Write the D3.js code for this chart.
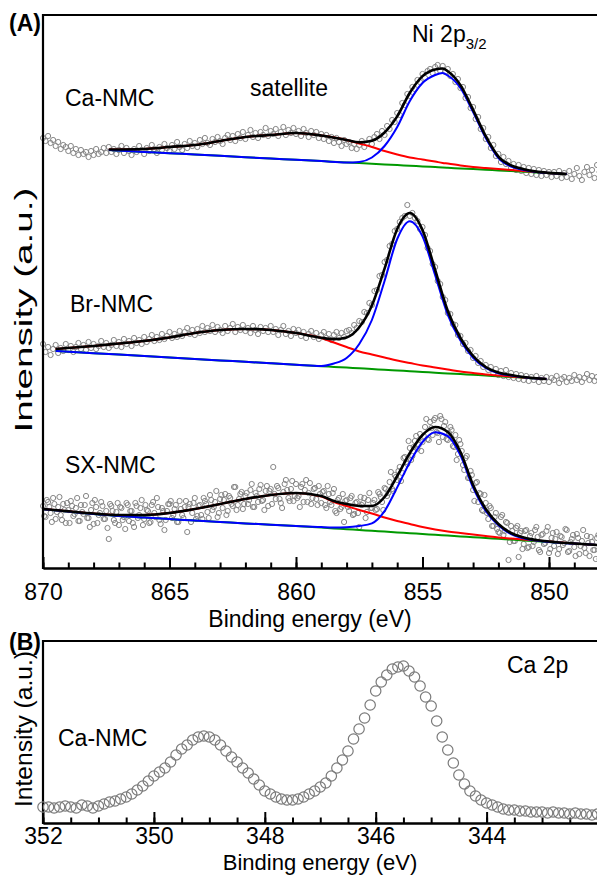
<!DOCTYPE html>
<html>
<head>
<meta charset="utf-8">
<script src="https://cdn.jsdelivr.net/npm/d3@7"></script>
<style>
  body { margin: 0; background: #fff; }
  svg text { font-family: "Liberation Sans", Arial, sans-serif; }
</style>
</head>
<body>
<div id="container"></div>
<script>
// ---------- DATA (intensities in a.u.) ----------

// raw scans of panel A: 870.0 -> 848.0 eV, 0.1 eV step
let scanStartA = 870;
let scanStepA = 0.1;

let caScan = [430,427,432,425,428,422,426,419,423,421,417,422,415,419,413,418,414,416,411,417,413,419,414,416,420,415,
  421,416,419,414,418,
  422,415,420,417,413,419,416,422,418,414,
  420,417,423,419,415,421,418,424,420,417,
  423,419,426,421,418,424,420,427,422,425,
  421,428,424,430,425,423,429,426,431,427,
  424,430,433,428,432,427,434,430,436,429,
  433,438,431,435,430,436,433,440,432,437,
  434,439,432,436,441,433,438,435,440,434,
  437,432,439,435,431,437,433,436,430,434,
  429,433,427,431,425,430,426,422,428,424,
  426,420,424,419,423,427,421,425,429,424,
  431,434,429,437,433,442,439,448,446,455,
  453,465,463,474,472,481,479,488,486,494,
  490,497,499,495,501,503,497,502,496,499,
  492,494,486,489,480,481,470,471,460,461,
  449,451,439,440,429,431,420,423,412,414,
  406,411,404,407,400,404,398,403,397,401,
  395,400,394,399,393,398,392,397,393,396,
  391,396,392,397,390,395,391,397,389,394,
  400,392,388,396,401,393,398,390,403,396];

let brScan = [224,216,221,213,219,223,215,220,217,224,218,
  222,216,221,225,219,223,218,226,220,224,
  219,222,227,221,225,220,223,228,222,226,
  221,229,224,227,222,230,225,228,224,231,
  226,229,233,227,231,228,234,229,232,236,
  230,234,231,237,232,236,240,234,238,233,
  239,235,242,236,240,237,243,236,241,238,
  235,242,237,240,244,236,241,238,243,237,
  240,235,242,238,234,241,237,240,236,242,
  236,239,233,238,242,234,237,232,239,235,
  238,232,236,230,234,237,231,235,229,233,
  236,230,234,228,233,236,230,235,231,237,
  238,235,243,240,247,246,256,255,265,263,
  277,278,292,293,306,308,322,324,337,339,
  346,350,352,363,352,355,350,347,339,341,
  333,320,317,304,301,287,284,271,268,255,
  254,244,243,233,232,224,225,217,218,210,
  212,205,207,201,203,198,201,195,199,193,
  197,192,198,191,195,190,194,189,193,188,
  192,187,191,188,192,186,190,187,191,186,
  190,188,192,185,189,191,186,190,187,193,
  188,191,186,190,194,188,192,187,191,189];

let sxScan = [62,51,66,55,70,49,61,53,64,45,58,
  67,52,60,47,63,54,72,50,58,44,
  61,53,66,49,57,29,62,48,56,43,
  60,51,65,47,57,41,62,53,68,49,
  58,45,63,55,70,48,60,38,57,64,
  50,59,46,67,53,61,36,64,55,70,
  52,63,49,67,56,73,58,66,51,69,
  60,74,57,70,62,81,63,74,59,72,
  64,78,61,75,66,83,68,77,62,79,
  101,69,80,65,76,88,70,79,67,84,
  72,81,66,88,75,64,79,69,82,65,
  77,60,74,63,79,55,70,61,46,68,
  57,72,54,66,41,63,70,56,75,60,
  68,59,74,66,80,72,86,79,93,88,
  101,95,111,104,120,112,127,119,134,126,
  141,129,146,133,150,135,152,131,146,128,
  141,122,133,114,124,103,110,90,97,78,
  85,66,74,57,65,49,60,42,55,36,
  51,33,46,8,42,27,40,11,37,24,
  38,21,35,26,41,18,33,24,37,15,
  30,22,36,19,31,25,38,17,29,21,
  34,14,27,20,32,12,26,18,30,9];

// SX-NMC was recorded on a finer grid: the in-between points, 869.95 -> 848.05 eV
let sxScanHalfStart = 869.95;
let sxScanHalf = [52,68,61,46,64,56,71,48,58,65,
  45,62,54,70,47,56,63,50,41,65,
  68,45,55,62,49,40,64,57,45,65,
  61,48,39,63,57,45,65,50,60,43,
  63,57,46,66,51,61,44,57,48,64,
  67,53,63,46,59,50,67,61,46,65,
  49,62,53,70,64,50,68,61,77,55,
  73,68,53,72,64,81,58,69,76,64,
  75,68,84,61,72,79,67,58,82,77,
  64,74,82,69,60,84,78,67,87,72,
  70,61,84,78,66,85,70,80,63,74,
  76,63,82,66,75,57,68,59,74,67,
  61,70,53,65,55,71,65,50,68,60,
  65,58,76,71,58,79,75,96,77,91,
  97,87,110,106,127,108,121,132,123,117,
  132,149,128,140,148,136,126,149,142,129,
  135,138,121,108,128,117,98,112,90,93,
  67,86,75,58,73,55,62,42,51,39,
  35,53,37,45,26,37,27,42,35,19,
  37,20,32,22,38,31,16,34,25,41,
  19,35,29,14,32,23,39,16,26,33,
  12,30,22,38,15,25,31,18,9,33];

// fitted components: energy, background, satellite, main peak, envelope
let caFitE = [867.4,866,865,864,863,862,861,860,859,858,857.5,857,856.5,856,855.5,855,854.5,854.2,854,853.5,853,852.5,852,851.5,851,850.5,850,849.3];
let caBackground = [418,416.1,414.8,413.5,412.2,410.8,409.5,408.2,406.9,405.5,404.9,404.2,403.5,402.9,402.2,401.6,400.9,400.5,400.2,399.6,398.9,398.2,397.6,396.9,396.2,395.6,394.9,394];
let caSatellite = [418.5,419,421,423,427,431,433,435,432.5,428,424.5,421,417,413.5,410.5,408.5,406.5,405,404.5,402.5,401,400,399,398,397,396,395,394];
let caMain = [418,416.1,414.8,413.5,412.2,410.8,409.5,408.2,406.9,405.5,406,410.5,422,441,467,485,493,495,492.5,480,456,430,410,401.5,398,396,395,394];
let caEnvelope = [418.5,419,421,423,427,431,433,435,432.5,428,425.6,427.3,435.5,451.6,475.3,491.9,498.6,499.5,496.8,482.9,458.1,431.8,411.4,402.6,398.8,396.4,395.1,394];

let brFitE = [869.5,868,867,866,865,864,863,862,861,860,859,858.5,858,857.5,857,856.5,856,855.5,855,854.5,854,853.5,853,852.5,852,851.5,851,850.1];
let brBackground = [217,214.8,213.4,211.9,210.5,209.1,207.6,206.2,204.7,203.3,201.8,201.1,200.4,199.7,199,198.2,197.5,196.8,196.1,195.3,194.6,193.9,193.2,192.5,191.7,191,190.3,189];
let brSatellite = [219,222,224.5,227,230.5,235,238,239,238,235,230,225.5,221,216.5,213.5,210.5,207.5,205,202.5,200.5,198.5,196.5,195,193.5,192.5,191.5,190.5,189];
let brMain = [217,214.8,213.4,211.9,210.5,209.1,207.6,206.2,204.7,203.3,202,204.5,210,224,248,287,329,346.8,331.6,292.8,253.1,227.4,210.2,200,194.7,192.5,190.8,189];
let brEnvelope = [219,222,224.5,227,230.5,235,238,239,238,235,230.2,228.9,230.6,240.8,262.5,299.3,339,355,338,298,257,230,212,201,195.5,193,191,189];

let sxFitE = [870,869,868,867,866,865,864,863,862,861,860,859,858.5,858,857.5,857,856.5,856,855.5,855,854.5,854,853.5,853,852.5,852,851.5,851,850,849,848.1];
let sxBackground = [58.8,56.4,54.1,52,50.4,48.9,47.4,46,44.6,43.3,42,40.4,39.6,38.8,38,37.2,36.4,35.6,34.8,34,33.2,32.4,31.6,30.8,30,29.2,28.4,27.6,26,24.4,23];
let sxSatellite = [59,56.7,54.5,53,53,55,59,64,69,73,75,71.5,66,62,58,54.5,50.5,47,44,41,38.5,36.5,35,33.5,32,30.5,29.5,28.5,26.5,24.5,23];
let sxMain = [58.8,56.4,54.1,52,50.4,48.9,47.4,46,44.6,43.3,42,40.9,40.6,40.8,42,44.7,56.9,80.6,105.8,126,135.7,131.9,112.6,80.3,57,42.7,33.9,29.6,26,24.4,23];
let sxEnvelope = [59,56.7,54.5,53,53,55,59,64,69,73,75,72,67,64,62,62,71,92,115,133,141,136,116,83,59,44,35,30.5,26.5,24.5,23];

// panel B: Ca 2p scan, 352.0 -> 342.0 eV, 0.1 eV step
let scanStartB = 352;
let scanStepB = 0.1;
let ca2pScan = [16,16,15,16,17,16,15,18,17,15,
  17,19,21,22,24,26,29,33,37,42,
  47,51,55,61,68,74,78,83,86,87,
  86,83,78,72,66,61,55,50,44,38,
  32,29,26,24,23,23,24,26,29,32,
  36,40,47,55,63,72,84,94,105,118,
  132,141,148,154,156,157,152,146,137,126,
  117,102,86,73,60,48,39,32,27,23,
  20,18,16,14,13,13,12,12,11,11,
  11,10,11,10,10,9,10,9,9,8,
  9];

let ticksA = [870, 865, 860, 855, 850];
let ticksB = [352, 350, 348, 346, 344];

// ---------- DRAWING ----------
let w = 597;
let h = 877;

let viz = d3.select("#container")
  .append("svg")
    .attr("width", w)
    .attr("height", h)
    .attr("font-family", "Liberation Sans, Arial, sans-serif")
    .style("background-color", "white")
;

let fontSize = 23;

// PANEL A scales
let xA = d3.scaleLinear().domain([870, 848]).range([43, 599.6]);
let yA = d3.scaleLinear().domain([0, 553]).range([568, 15]);

// PANEL B scales
let xB = d3.scaleLinear().domain([352, 342]).range([43, 597.5]);
let yB = d3.scaleLinear().domain([0, 182]).range([823, 641]);

function scanPoints(values, start, step){
  return values.map((v, i)=>({e: start - i*step, v: v}));
}

function fitPoints(es, vs){
  return es.map((e, i)=>({e: e, v: vs[i]}));
}

// scatter of raw data, panel A
let spectraA = [
  scanPoints(caScan, scanStartA, scanStepA),
  scanPoints(brScan, scanStartA, scanStepA),
  scanPoints(sxScan, scanStartA, scanStepA),
  scanPoints(sxScanHalf, sxScanHalfStart, scanStepA)
];
let scatterA = viz.append("g").attr("class", "scatterA");
spectraA.forEach(pts=>{
  scatterA.selectAll(null).data(pts).enter()
    .append("circle")
      .attr("cx", d=>xA(d.e))
      .attr("cy", d=>yA(d.v))
      .attr("r", 2.6)
      .attr("fill", "none")
      .attr("stroke", "#858585")
      .attr("stroke-width", 1)
  ;
});

// fitted curves
let lineA = d3.line()
  .x(d=>xA(d.e))
  .y(d=>yA(d.v))
  .curve(d3.curveMonotoneX);

let fits = [
  {e: caFitE, parts: [caBackground, caSatellite, caMain, caEnvelope]},
  {e: brFitE, parts: [brBackground, brSatellite, brMain, brEnvelope]},
  {e: sxFitE, parts: [sxBackground, sxSatellite, sxMain, sxEnvelope]}
];
let fitColors = ["#009900", "#ff0000", "#0000ff", "#000000"];
let fitWidths = [2, 2, 2, 2.6];

let fitGroup = viz.append("g").attr("class", "fits");
fits.forEach(f=>{
  f.parts.forEach((vs, k)=>{
    fitGroup.append("path")
      .datum(fitPoints(f.e, vs))
      .attr("d", lineA)
      .attr("fill", "none")
      .attr("stroke", fitColors[k])
      .attr("stroke-width", fitWidths[k])
    ;
  });
});

// x axes, ticks pointing inwards
function drawXAxis(scale, yPos, majors, minors, pad){
  let minorAxis = d3.axisBottom(scale).tickValues(minors).tickSize(-5.5).tickSizeOuter(0).tickFormat("");
  let majorAxis = d3.axisBottom(scale).tickValues(majors).tickSize(-11).tickSizeOuter(0).tickPadding(pad);
  let g1 = viz.append("g").attr("transform", "translate(0,"+ yPos +")").call(minorAxis);
  let g2 = viz.append("g").attr("transform", "translate(0,"+ yPos +")").call(majorAxis);
  [g1, g2].forEach(g=>{
    g.attr("font-family", null).attr("font-size", null);
    g.select(".domain").attr("stroke", "#000").attr("stroke-width", 2.2);
    g.selectAll(".tick line").attr("stroke", "#000").attr("stroke-width", 2);
  });
  g2.selectAll(".tick text").attr("fill", "#000").style("font-size", fontSize+"px");
}

drawXAxis(xA, 568, ticksA, d3.range(848, 871, 1), 16);
drawXAxis(xB, 823, ticksB, d3.range(342, 352.5, 0.5), 5);

// frame lines (left axis + top)
viz.append("line").attr("x1", 43).attr("x2", 43).attr("y1", 14).attr("y2", 569)
  .attr("stroke", "#000").attr("stroke-width", 2.2);
viz.append("line").attr("x1", 42).attr("x2", w).attr("y1", 15).attr("y2", 15)
  .attr("stroke", "#000").attr("stroke-width", 2.2);
viz.append("line").attr("x1", 43).attr("x2", 43).attr("y1", 640).attr("y2", 824)
  .attr("stroke", "#000").attr("stroke-width", 2.2);
viz.append("line").attr("x1", 42).attr("x2", w).attr("y1", 641).attr("y2", 641)
  .attr("stroke", "#000").attr("stroke-width", 2.2);

// scatter of raw data, panel B
viz.append("g").attr("class", "scatterB")
  .selectAll("circle").data(scanPoints(ca2pScan, scanStartB, scanStepB)).enter()
  .append("circle")
    .attr("cx", d=>xB(d.e))
    .attr("cy", d=>yB(d.v))
    .attr("r", 5.2)
    .attr("fill", "none")
    .attr("stroke", "#7a7a7a")
    .attr("stroke-width", 1.2)
;

// ---------- TEXT ----------
function label(x, y, txt, opts){
  opts = opts || {};
  let t = viz.append("text")
    .attr("x", x)
    .attr("y", y)
    .attr("fill", "#000")
    .style("font-size", (opts.size || fontSize)+"px")
    .style("font-weight", opts.bold ? "bold" : "normal")
    .attr("text-anchor", opts.anchor || "start")
    .text(txt);
  return t;
}

label(9, 31, "(A)", {bold: true});
label(9, 650, "(B)", {bold: true});

label(65, 106, "Ca-NMC");
label(250, 96, "satellite");
label(70, 312, "Br-NMC");
label(65, 473, "SX-NMC");

let ni = label(412, 42, "Ni 2p");
ni.append("tspan").attr("dy", 7).style("font-size", "15px").text("3/2");

label(310, 627, "Binding energy (eV)", {anchor: "middle"});
label(320, 870, "Binding energy (eV)", {anchor: "middle", size: 22});

label(58, 746, "Ca-NMC");
label(507, 673, "Ca 2p");

// rotated y titles, stretched like the original figure
viz.append("text")
  .attr("transform", "translate(32,310) rotate(-90)")
  .attr("text-anchor", "middle")
  .attr("textLength", 245)
  .attr("lengthAdjust", "spacingAndGlyphs")
  .style("font-size", "23px")
  .text("Intensity (a.u.)");

viz.append("text")
  .attr("transform", "translate(32,729) rotate(-90)")
  .attr("text-anchor", "middle")
  .attr("textLength", 156)
  .attr("lengthAdjust", "spacingAndGlyphs")
  .style("font-size", "23px")
  .text("Intensity (a.u.)");
</script>
</body>
</html>
